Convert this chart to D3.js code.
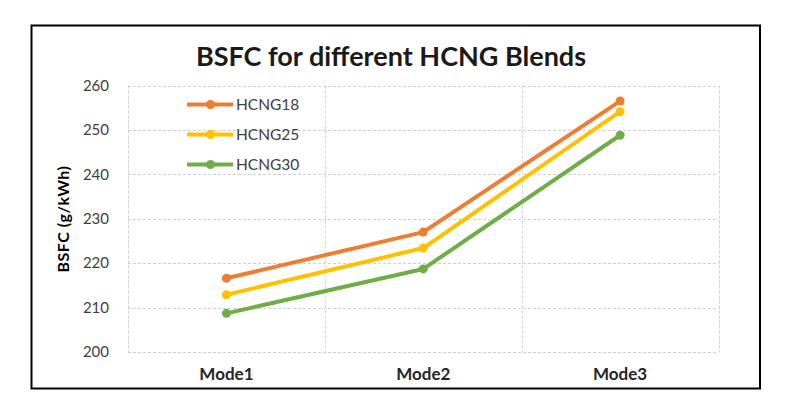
<!DOCTYPE html>
<html><head><meta charset="utf-8">
<script src="https://cdn.jsdelivr.net/npm/d3@7"></script>
<style>html,body{margin:0;padding:0;background:#fff;} svg{display:block;}</style>
</head><body>
<svg id="c" width="785" height="410"></svg>
<script>
const categories = ["Mode1", "Mode2", "Mode3"];
const seriesNames = ["HCNG18", "HCNG25", "HCNG30"];
const hcng18 = [216.6, 227.0, 256.5];
const hcng25 = [212.9, 223.4, 254.1];
const hcng30 = [208.7, 218.7, 248.8];
const yTicks = [200, 210, 220, 230, 240, 250, 260];
const colors = ["#ED7D31", "#FFC000", "#70AD47"];
const titleText = "BSFC for different HCNG Blends";
const yTitle = "BSFC (g/kWh)";

const series = [hcng18, hcng25, hcng30].map((v, i) => ({name: seriesNames[i], values: v, color: colors[i]}));

const svg = d3.select("#c");
const L = 128, R = 718.5, T = 85.5, B = 352;
const x = d3.scaleBand().domain(categories).range([L, R]).padding(0);
const y = d3.scaleLinear().domain([200, 260]).range([B, T]);
const font = "Lato, 'Open Sans', sans-serif";

// outer border
svg.append("rect").attr("x", 31.5).attr("y", 25.5).attr("width", 728.5).attr("height", 363)
  .attr("fill", "#fff").attr("stroke", "#000").attr("stroke-width", 2);

// grid
const grid = svg.append("g").attr("stroke", "#d0d0d0").attr("stroke-width", 1).attr("stroke-dasharray", "3,2").attr("fill", "none");
yTicks.forEach(t => {
  grid.append("line").attr("x1", L).attr("x2", R).attr("y1", Math.round(y(t)) + 0.5).attr("y2", Math.round(y(t)) + 0.5);
});
const edges = categories.map(c => x(c)).concat([x(categories[categories.length - 1]) + x.bandwidth()]);
edges.forEach(e => {
  grid.append("line").attr("x1", Math.round(e) + 0.5).attr("x2", Math.round(e) + 0.5).attr("y1", T).attr("y2", B);
});

// y axis labels
const yAxis = d3.axisLeft(y).tickValues(yTicks).tickSize(0).tickPadding(19).tickFormat(d3.format("d"));
const ya = svg.append("g").attr("transform", `translate(${L},0)`).call(yAxis);
ya.select(".domain").remove();
ya.selectAll("text").attr("font-family", font).attr("font-size", 15).attr("fill", "#404040");

// x axis labels
const xAxis = d3.axisBottom(x).tickSize(0).tickPadding(16);
const xa = svg.append("g").attr("transform", `translate(0,${B})`).call(xAxis);
xa.select(".domain").remove();
xa.selectAll("text").attr("font-family", font).attr("font-size", 17).attr("font-weight", "bold").attr("fill", "#262626");

// lines
const line = d3.line().x((d, i) => x(categories[i]) + x.bandwidth() / 2).y(d => y(d));
series.forEach(s => {
  svg.append("path").datum(s.values).attr("d", line).attr("fill", "none")
    .attr("stroke", s.color).attr("stroke-width", 4).attr("stroke-linejoin", "round");
  svg.selectAll(null).data(s.values).enter().append("circle")
    .attr("cx", (d, i) => x(categories[i]) + x.bandwidth() / 2).attr("cy", d => y(d))
    .attr("r", 4.5).attr("fill", s.color);
});

// legend
const lg = svg.append("g");
series.forEach((s, i) => {
  const ly = 104.5 + i * 30;
  lg.append("line").attr("x1", 187).attr("x2", 233).attr("y1", ly).attr("y2", ly)
    .attr("stroke", s.color).attr("stroke-width", 4);
  lg.append("circle").attr("cx", 210.5).attr("cy", ly).attr("r", 4.5).attr("fill", s.color);
  lg.append("text").attr("x", 236).attr("y", ly + 5.5).text(s.name)
    .attr("font-family", font).attr("font-size", 15.5).attr("fill", "#404040");
});

// title
svg.append("text").attr("x", 391).attr("y", 66).attr("text-anchor", "middle")
  .attr("font-family", font).attr("font-size", 27).attr("font-weight", "bold").attr("fill", "#1a1a1a")
  .text(titleText);

// y title
svg.append("text").attr("transform", `translate(69,219) rotate(-90)`).attr("text-anchor", "middle")
  .attr("font-family", font).attr("font-size", 16).attr("font-weight", "bold").attr("fill", "#000")
  .attr("letter-spacing", 0.5)
  .text(yTitle);
</script>
</body></html>
